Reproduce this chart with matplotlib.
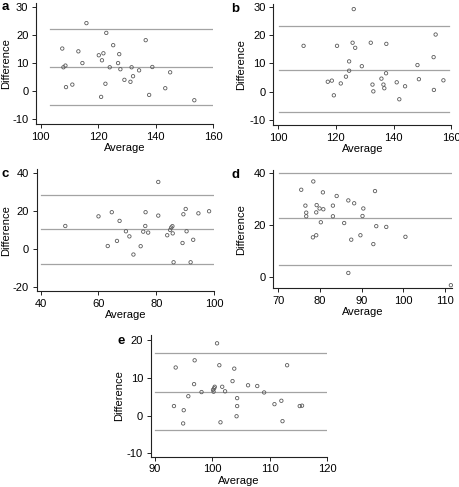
import matplotlib
matplotlib.use("Agg")
import matplotlib.pyplot as plt

plt.rcParams['font.family'] = ['Liberation Sans', 'DejaVu Sans']
plt.rcParams['axes.unicode_minus'] = False

# ---------------- data ----------------
a_avg = [115.9, 122.8, 136.5, 125.2, 107.5, 113.1, 121.8, 120.2, 127.3, 121.3,
         114.5, 126.9, 107.9, 108.6, 124.0, 127.7, 131.6, 134.2, 138.8, 145.0,
         132.1, 129.1, 131.2, 122.5, 111.0, 108.8, 143.3, 121.0, 137.7, 153.4]
a_diff = [24.3, 20.8, 18.2, 16.4, 15.2, 14.2, 13.5, 12.8, 13.2, 11.0,
          10.0, 10.0, 8.5, 9.1, 8.5, 7.8, 8.5, 7.4, 8.6, 6.7,
          5.3, 4.0, 3.3, 2.6, 2.3, 1.4, 1.0, -2.1, -1.4, -3.3]
a_limits = [22.1, 8.5, -4.9]

b_avg = [126.2, 108.8, 120.4, 125.8, 126.7, 132.1, 137.5, 154.6, 124.6, 124.6,
         129.0, 123.5, 117.2, 118.6, 121.7, 119.3, 132.7, 133.0, 135.8, 136.5,
         136.8, 137.4, 141.1, 144.0, 142.0, 148.3, 148.8, 153.9, 154.0, 157.3]
b_diff = [29.2, 16.2, 16.2, 17.3, 15.5, 17.3, 16.9, 20.2, 10.7, 7.4,
          9.0, 5.3, 3.5, 3.9, 2.9, -1.3, 2.5, 0.1, 4.6, 2.5,
          1.2, 6.5, 3.3, 1.9, -2.7, 9.4, 4.4, 12.2, 0.6, 4.0]
b_limits = [23.2, 7.8, -7.2]

c_avg = [48.5, 60.0, 64.6, 67.3, 63.2, 66.4, 69.5, 70.7, 72.1, 74.6,
         75.5, 76.2, 76.3, 77.2, 80.7, 80.7, 83.8, 84.8, 85.2, 85.6,
         85.7, 86.0, 89.1, 89.4, 90.2, 90.5, 91.9, 92.8, 94.6, 98.3]
c_diff = [12.1, 17.2, 19.4, 14.8, 1.5, 4.2, 9.3, 6.6, -3.0, 1.4,
          9.1, 12.1, 19.4, 8.6, 35.4, 17.6, 7.2, 10.0, 11.3, 12.0,
          8.2, -7.1, 3.1, 18.3, 21.1, 9.3, -7.1, 4.8, 18.8, 19.9]
c_limits = [28.7, 10.4, -7.8]

d_avg = [75.5, 78.4, 76.5, 76.7, 76.7, 79.2, 79.1, 79.9, 80.8, 80.7,
         80.2, 78.3, 79.1, 83.1, 83.1, 84.0, 85.8, 86.8, 88.2, 87.5,
         86.8, 89.7, 90.4, 90.2, 93.2, 93.5, 92.8, 95.9, 100.5, 111.4]
d_diff = [33.7, 36.9, 27.6, 24.9, 23.5, 27.8, 25.0, 26.5, 26.2, 32.7,
          21.2, 15.4, 16.2, 27.6, 23.5, 31.3, 20.9, 29.6, 28.5, 14.5,
          1.7, 16.2, 26.5, 23.6, 33.2, 19.7, 12.8, 19.4, 15.6, -3.0]
d_limits = [40.3, 22.7, 4.7]

e_avg = [100.8, 96.9, 93.6, 101.2, 103.8, 113.0, 96.8, 103.5, 106.2, 107.8,
         98.1, 100.1, 100.2, 100.3, 100.4, 101.7, 102.2, 95.8, 104.3, 104.3,
         109.0, 93.3, 95.0, 94.9, 101.4, 104.2, 110.8, 112.0, 112.2, 115.2, 115.6]
e_diff = [19.1, 14.6, 12.7, 13.3, 12.4, 13.3, 8.3, 9.1, 8.0, 7.8,
          6.2, 6.8, 6.3, 7.2, 7.6, 7.6, 6.4, 5.1, 4.6, 2.5,
          6.1, 2.5, 1.4, -2.1, -1.8, -0.2, 3.0, 3.9, -1.5, 2.5, 2.6]
e_limits = [16.5, 6.2, -3.8]

xticks_ab = [100, 120, 140, 160]
yticks_ab = [-10, 0, 10, 20, 30]
xticks_c = [40, 60, 80, 100]
yticks_c = [-20, 0, 20, 40]
xticks_d = [70, 80, 90, 100, 110]
yticks_d = [0, 20, 40]
xticks_e = [90, 100, 110, 120]
yticks_e = [-10, 0, 10, 20]

# ---------------- figure ----------------
W, H = 460, 487
fig = plt.figure(figsize=(W / 100, H / 100), dpi=100)

LINE_C = '#a3a3a3'
PT_C = '#5a5a5a'
FS = 8


def panel(letter, box, xlim, ylim, xticks, yticks, xs, ys, limits, span, letter_pos):
    l, r, t, b = box
    ax = fig.add_axes([l / W, 1 - b / H, (r - l) / W, (b - t) / H])
    ax.set_xlim(*xlim)
    ax.set_ylim(*ylim)
    for s in ('top', 'right'):
        ax.spines[s].set_visible(False)
    for s in ('left', 'bottom'):
        ax.spines[s].set_linewidth(0.8)
        ax.spines[s].set_color('#222222')
    ax.set_xticks(xticks)
    ax.set_yticks(yticks)
    ax.tick_params(direction='out', length=3, width=0.7, color='#222222',
                   labelsize=FS, pad=2.5)
    for v in limits:
        ax.plot(span, [v, v], color=LINE_C, lw=0.9, zorder=1)
    ax.scatter(xs, ys, s=6, facecolors='none', edgecolors=PT_C,
               linewidths=0.6, zorder=2, clip_on=False)
    ax.set_xlabel('Average', fontsize=FS)
    ax.set_ylabel('Difference', fontsize=FS)
    ax.xaxis.set_label_coords(0.5, -24 / (b - t))
    ax.xaxis.label.set_va('center')
    ax.yaxis.set_label_coords(-(l - letter_pos[2]) / (r - l), 0.5)
    ax.yaxis.label.set_va('center')
    fig.text(letter_pos[0] / W, 1 - letter_pos[1] / H, letter, fontsize=9.5,
             fontweight='bold', ha='left', va='baseline')
    return ax


panel('a', (36, 213.3, 3, 124), (98.37, 160), (-11.8, 31.5), xticks_ab, yticks_ab,
      a_avg, a_diff, a_limits, [103.2, 160], (1.5, 10.3, 6))
panel('b', (273.3, 451.2, 4, 125), (98.3, 160), (-11.8, 31.0), xticks_ab, yticks_ab,
      b_avg, b_diff, b_limits, [100.3, 159.3], (231.5, 11.7, 241))
panel('c', (36.7, 214, 169.3, 291), (38.6, 100), (-22.3, 42.1), xticks_c, yticks_c,
      c_avg, c_diff, c_limits, [40, 100], (1.5, 176.7, 6))
panel('d', (273.3, 451.7, 170, 288.3), (68.8, 111.6), (-4.2, 41.3), xticks_d, yticks_d,
      d_avg, d_diff, d_limits, [70.2, 111.4], (231.5, 178.3, 241))
panel('e', (150.7, 327.3, 335, 456.7), (89.25, 120), (-10.9, 21.3), xticks_e, yticks_e,
      e_avg, e_diff, e_limits, [90, 120], (117.5, 344, 119))

fig.savefig('out.png', dpi=100)
